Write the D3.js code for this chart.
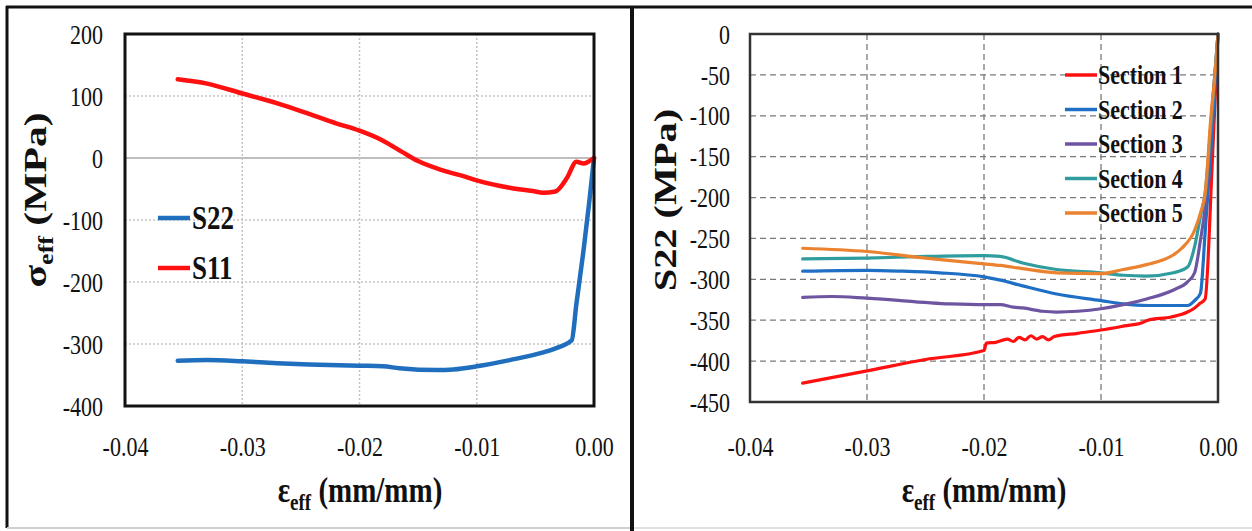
<!DOCTYPE html>
<html>
<head>
<meta charset="utf-8">
<script src="https://cdn.jsdelivr.net/npm/d3@7"></script>
<style>
  html, body { margin: 0; padding: 0; background: #fff; }
  svg { display: block; }
  svg text { font-family: "Liberation Serif", "Tinos", "Times New Roman", "Nimbus Roman", "DejaVu Serif", serif; }
  .sy { transform-box: fill-box; transform-origin: center; transform: scaleY(1.22); }
  .sx { transform-box: fill-box; transform-origin: center; transform: scaleX(1.3); }
</style>
</head>
<body>
<svg id="chart" width="1252" height="531"></svg>
<script>
// ---------------- DATA ----------------
const xTickValues = [-0.04, -0.03, -0.02, -0.01, 0];
const leftYTicks = [200, 100, 0, -100, -200, -300, -400];
const rightYTicks = [0, -50, -100, -150, -200, -250, -300, -350, -400, -450];

// Left panel: S11 and S22
const s11Strain = [-0.0355, -0.033, -0.030, -0.027, -0.0243, -0.022, -0.020, -0.018, -0.0163, -0.015, -0.0129, -0.011, -0.010, -0.0072, -0.005, -0.0044, -0.0033, -0.0023, -0.0015, -0.0009, -0.0004, 0];
const s11Stress = [127, 120, 104, 88, 71, 56, 44, 28, 9, -5, -20, -30, -36, -48, -54, -56, -54, -32, -6, -9, -5, 0];

const s22Strain = [-0.0355, -0.033, -0.030, -0.027, -0.0243, -0.020, -0.018, -0.0166, -0.0134, -0.012, -0.010, -0.0072, -0.0044, -0.003, -0.0019, -0.0015, -0.0009, -0.0004, 0];
const s22Stress = [-327, -326, -328, -331, -333, -335, -336, -339, -342, -341, -336, -326, -314, -305, -294, -235, -150, -70, 0];

// Right panel: S22 per section
const sec1Strain = [-0.0355, -0.030, -0.025, -0.020, -0.0198, -0.019, -0.018, -0.0175, -0.017, -0.0165, -0.016, -0.0155, -0.015, -0.0145, -0.014, -0.012, -0.010, -0.008, -0.0065, -0.006, -0.004, -0.0026, -0.002, -0.0015, -0.0011, -0.0005, 0];
const sec1Stress = [-427, -412, -398, -387, -378, -377, -373, -376, -371, -374, -369, -373, -370, -374, -370, -366, -362, -357, -353, -350, -346, -340, -335, -329, -324, -160, 0];

const sec2Strain = [-0.0355, -0.030, -0.027, -0.0238, -0.020, -0.0186, -0.0167, -0.0138, -0.010, -0.0081, -0.006, -0.004, -0.0026, -0.002, -0.0015, -0.0011, -0.0005, 0];
const sec2Stress = [-290, -289, -290, -292, -297, -301, -308, -318, -326, -330, -332, -332, -332, -326, -317, -243, -120, 0];

const sec3Strain = [-0.0355, -0.033, -0.030, -0.0229, -0.020, -0.0186, -0.0175, -0.0167, -0.015, -0.0138, -0.012, -0.010, -0.0081, -0.0061, -0.0038, -0.0026, -0.002, -0.0015, -0.0011, -0.0006, 0];
const sec3Stress = [-322, -321, -323, -330, -331, -331, -334, -335, -339, -340, -339, -336, -331, -324, -313, -303, -292, -252, -211, -110, 0];

const sec4Strain = [-0.0355, -0.030, -0.025, -0.020, -0.0186, -0.0167, -0.0138, -0.010, -0.0081, -0.0061, -0.0038, -0.0026, -0.002, -0.0015, -0.0011, -0.0006, 0];
const sec4Stress = [-275, -274, -272, -271, -272, -280, -288, -292, -295, -296, -292, -285, -260, -223, -195, -110, 0];

const sec5Strain = [-0.0355, -0.030, -0.025, -0.020, -0.0186, -0.0167, -0.0138, -0.010, -0.0081, -0.0061, -0.0038, -0.0031, -0.002, -0.0015, -0.0011, -0.0006, -0.0002, 0];
const sec5Stress = [-262, -266, -274, -281, -283, -287, -292, -293, -288, -282, -270, -262, -240, -219, -195, -100, -40, 0];

const leftSeries = [
  { name: "S22", strain: s22Strain, stress: s22Stress, color: "#1f6fbe" },
  { name: "S11", strain: s11Strain, stress: s11Stress, color: "#ff1010" }
];
const rightSeries = [
  { name: "Section 1", strain: sec1Strain, stress: sec1Stress, color: "#ff1010" },
  { name: "Section 2", strain: sec2Strain, stress: sec2Stress, color: "#1f6fc4" },
  { name: "Section 3", strain: sec3Strain, stress: sec3Stress, color: "#6e55a2" },
  { name: "Section 4", strain: sec4Strain, stress: sec4Stress, color: "#2f9c9e" },
  { name: "Section 5", strain: sec5Strain, stress: sec5Stress, color: "#ea8230" }
];

// ---------------- DRAW ----------------
const svg = d3.select("#chart");
svg.append("rect").attr("width", 1252).attr("height", 531).attr("fill", "#fff");

// panel frames
svg.append("line").attr("x1", 6).attr("x2", 1252).attr("y1", 7).attr("y2", 7).attr("stroke", "#111").attr("stroke-width", 3);
svg.append("line").attr("x1", 7).attr("x2", 7).attr("y1", 6).attr("y2", 528).attr("stroke", "#111").attr("stroke-width", 3);
svg.append("line").attr("x1", 632).attr("x2", 632).attr("y1", 6).attr("y2", 531).attr("stroke", "#111").attr("stroke-width", 4);
svg.append("line").attr("x1", 7).attr("x2", 630).attr("y1", 528).attr("y2", 528).attr("stroke", "#d0d0d0").attr("stroke-width", 2);
svg.append("line").attr("x1", 634).attr("x2", 1252).attr("y1", 528).attr("y2", 528).attr("stroke", "#e0e0e0").attr("stroke-width", 2);

function panel(opts) {
  const { x0, x1, y0, y1, yDomain, yTicks, series, gridStyle, lineWidth, borderColor, borderWidth, pad } = opts;
  const x = d3.scaleLinear().domain([-0.04, 0]).range([x0, x1]);
  const y = d3.scaleLinear().domain(yDomain).range([y1, y0]);
  const g = svg.append("g");

  // grid
  const gg = g.append("g");
  yTicks.filter(v => v !== yDomain[0] && v !== yDomain[1]).forEach(v => {
    const isZero = v === 0 && gridStyle.zeroSolid;
    gg.append("line").attr("x1", x0).attr("x2", x1).attr("y1", y(v)).attr("y2", y(v))
      .attr("stroke", isZero ? gridStyle.zeroColor : gridStyle.color)
      .attr("stroke-width", gridStyle.width)
      .attr("stroke-dasharray", isZero ? null : gridStyle.dash);
  });
  xTickValues.filter(v => v !== -0.04 && v !== 0).forEach(v => {
    gg.append("line").attr("x1", x(v)).attr("x2", x(v)).attr("y1", y0).attr("y2", y1)
      .attr("stroke", gridStyle.color).attr("stroke-width", gridStyle.width)
      .attr("stroke-dasharray", gridStyle.dash);
  });

  // axes
  const xAxis = d3.axisBottom(x).tickValues(xTickValues).tickSize(0).tickPadding(0)
    .tickFormat(d => d.toFixed(2));
  const xa = g.append("g").attr("transform", `translate(0,${y1})`).call(xAxis);
  xa.attr("font-family", null);
  xa.select(".domain").remove();
  xa.selectAll("text").attr("y", 447 - y1).attr("dy", "0.35em")
    .attr("font-size", 22).attr("fill", "#111")
    .attr("class", "sy");

  const yAxis = d3.axisLeft(y).tickValues(yTicks).tickSize(0).tickPadding(pad)
    .tickFormat(d => String(d));
  const ya = g.append("g").attr("transform", `translate(${x0},0)`).call(yAxis);
  ya.attr("font-family", null);
  ya.select(".domain").remove();
  ya.selectAll("text").attr("dy", "0.34em")
    .attr("font-size", 22).attr("fill", "#111")
    .attr("class", "sy");

  // lines
  const line = d3.line().x(d => x(d[0])).y(d => y(d[1])).curve(d3.curveMonotoneX);
  series.forEach(s => {
    const pts = s.strain.map((v, i) => [v, s.stress[i]]);
    g.append("path").datum(pts).attr("d", line)
      .attr("fill", "none").attr("stroke", s.color).attr("stroke-width", lineWidth)
      .attr("stroke-linejoin", "round").attr("stroke-linecap", "round");
  });

  // plot border
  g.append("rect").attr("x", x0).attr("y", y0).attr("width", x1 - x0).attr("height", y1 - y0)
    .attr("fill", "none").attr("stroke", borderColor).attr("stroke-width", borderWidth);
  return { x, y, g };
}

const L = panel({
  x0: 125, x1: 594, y0: 34, y1: 406,
  yDomain: [-400, 200], yTicks: leftYTicks, series: leftSeries,
  gridStyle: { color: "#c4c4c4", width: 1.5, dash: "2,2", zeroSolid: true, zeroColor: "#a8a8a8" },
  lineWidth: 4.5, borderColor: "#111", borderWidth: 3, pad: 22
});

const R = panel({
  x0: 750, x1: 1218, y0: 34, y1: 402,
  yDomain: [-450, 0], yTicks: rightYTicks, series: rightSeries,
  gridStyle: { color: "#7a7a7a", width: 1.3, dash: "6,4", zeroSolid: false },
  lineWidth: 3.2, borderColor: "#333", borderWidth: 2.5, pad: 20
});

// legends
const legL = svg.append("g");
leftSeries.forEach((s, i) => {
  const yy = 218 + i * 50;
  legL.append("line").attr("x1", 158).attr("x2", 190).attr("y1", yy).attr("y2", yy)
    .attr("stroke", s.color).attr("stroke-width", 4.5);
  legL.append("text").attr("x", 192).attr("y", yy).attr("dy", "0.35em")
    .attr("font-size", 27).attr("font-weight", "bold").attr("fill", "#111")
    .attr("class", "sy").text(s.name);
});

const legR = svg.append("g");
rightSeries.forEach((s, i) => {
  const yy = 75 + i * 34.5;
  legR.append("line").attr("x1", 1065).attr("x2", 1097).attr("y1", yy).attr("y2", yy)
    .attr("stroke", s.color).attr("stroke-width", 3.5);
  legR.append("text").attr("x", 1098).attr("y", yy).attr("dy", "0.35em")
    .attr("font-size", 22).attr("font-weight", "bold").attr("fill", "#111")
    .attr("class", "sy").text(s.name);
});

// x titles
function xTitle(cx) {
  const t = svg.append("text").attr("x", cx).attr("y", 500).attr("text-anchor", "middle")
    .attr("font-weight", "bold").attr("fill", "#111").attr("class", "sy");
  t.append("tspan").attr("font-size", 29).text("ε");
  t.append("tspan").attr("font-size", 19).attr("dy", 7).text("eff");
  t.append("tspan").attr("font-size", 29).attr("dy", -7).text(" (mm/mm)");
}
xTitle(360);
xTitle(984);

// y titles
function yTitle(cx, cy, parts) {
  const g = svg.append("g").attr("transform", `translate(${cx},${cy}) rotate(-90)`);
  const t = g.append("text").attr("x", 0).attr("y", 0).attr("dy", "0.35em")
    .attr("text-anchor", "middle").attr("font-weight", "bold").attr("fill", "#111")
    .attr("class", "sx");
  parts(t);
}
yTitle(40, 200, t => {
  t.append("tspan").attr("font-size", 32).text("σ");
  t.append("tspan").attr("font-size", 20).attr("dy", 7).text("eff");
  t.append("tspan").attr("font-size", 32).attr("dy", -7).text(" (MPa)");
});
yTitle(670, 200, t => {
  t.append("tspan").attr("font-size", 31).text("S22 (MPa)");
});
</script>
</body>
</html>
